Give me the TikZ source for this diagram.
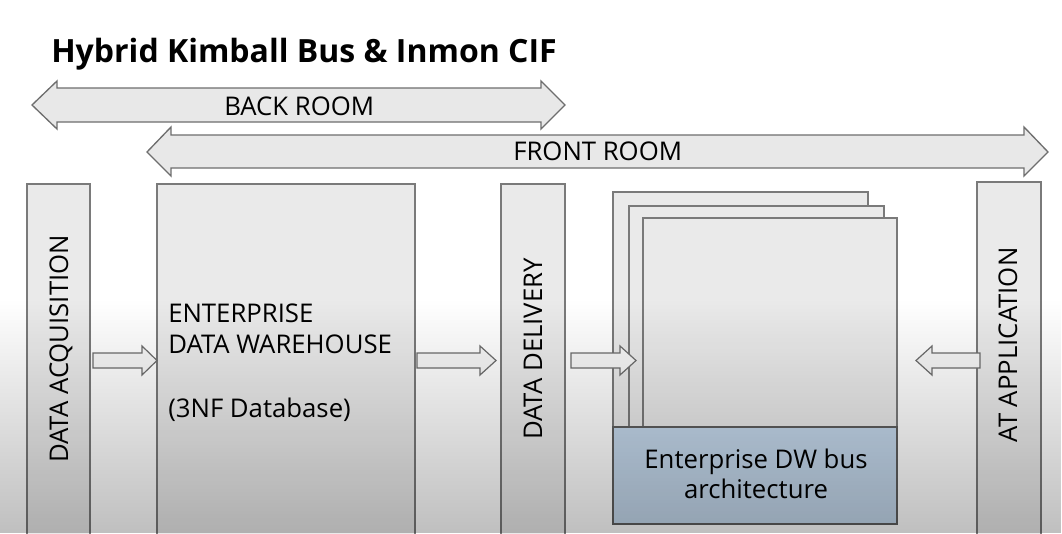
\documentclass[tikz,border=0pt]{standalone}
\usepackage{fontspec}
\setmainfont{Open Sans}
\usetikzlibrary{fit,fadings}
\tikzfading[name=darkdown, top color=transparent!100, bottom color=transparent!0]
\definecolor{boxfill}{HTML}{EAEAEA}
\definecolor{boxline}{HTML}{7A7A7A}
\definecolor{arrfill}{HTML}{E8E8E8}
\definecolor{arrline}{HTML}{6E6E6E}
\definecolor{blkfill}{HTML}{F7F7F7}
\definecolor{busfill}{HTML}{C4D8EC}
\definecolor{busline}{HTML}{5E5E5E}
\begin{document}
\begin{tikzpicture}[x=0.75pt,y=-0.75pt,
  box/.style={draw=boxline, fill=boxfill, line width=1pt, inner sep=0pt},
  bus/.style={draw=busline, fill=busfill, line width=1pt, inner sep=0pt},
  dbl/.style={draw=arrline, fill=arrfill, line width=1pt, line join=miter},
  blk/.style={draw=arrline, fill=blkfill, line width=0.9pt, line join=miter},
  lbl/.style={font=\fontsize{19.3}{23}\selectfont, inner sep=0pt},
  vlbl/.style={lbl, rotate=90, anchor=base},
  ttl/.style={font=\fontsize{24}{29}\bfseries, inner sep=0pt, anchor=base west}]
\useasboundingbox (0,0) rectangle (1062,533);
\clip (0,0) rectangle (1062,533);
\fill[white] (0,0) rectangle (1062,533);

% title
\node[ttl] (title) at (51,62) {Hybrid Kimball Bus \& Inmon CIF};

% room arrows
\draw[dbl] (32,105) -- (57,81) -- (57,88) -- (541,88) -- (541,81) -- (565,105)
  -- (541,129) -- (541,122) -- (57,122) -- (57,129) -- cycle;
\node[lbl, anchor=base west] (back) at (224,115) {BACK ROOM};
\draw[dbl] (147,152) -- (171,127) -- (171,135) -- (1024,135) -- (1024,127) -- (1048,152)
  -- (1024,176) -- (1024,168) -- (171,168) -- (171,176) -- cycle;
\node[lbl, anchor=base west] (front) at (513,160) {FRONT ROOM};

% columns
\node[box, fit={(27,184) (90,545)}] (acq) {};
\node[box, fit={(157,184) (415,545)}] (edw) {};
\node[box, fit={(501,184) (565,545)}] (del) {};
\node[box, fit={(977,182) (1041,545)}] (app) {};

% stacked marts
\node[box, fit={(613,192) (868,512)}] (m1) {};
\node[box, fit={(629,206) (884,512)}] (m2) {};
\node[box, fit={(643,218) (897,512)}] (m3) {};
\node[bus, fit={(613,427) (897,524)}] (busbox) {};

% labels
\node[vlbl] (acqt) at (68,349) {DATA ACQUISITION};
\node[vlbl] (delt) at (542,349) {DATA DELIVERY};
\node[vlbl] (appt) at (1017,345) {AT APPLICATION};
\node[lbl, anchor=base west] (e1) at (168,322) {ENTERPRISE};
\node[lbl, anchor=base west] (e2) at (168,353) {DATA WAREHOUSE};
\node[lbl, anchor=base west] (e3) at (168,417) {(3NF Database)};
\node[lbl, anchor=base] (b1) at (756,468) {Enterprise DW bus};
\node[lbl, anchor=base] (b2) at (756,498) {architecture};

% flow arrows
\draw[blk] (93,353) -- (142,353) -- (142,346) -- (157,360.5) -- (142,375) -- (142,368) -- (93,368) -- cycle;
\draw[blk] (417,353) -- (480,353) -- (480,346) -- (496,360.5) -- (480,375) -- (480,368) -- (417,368) -- cycle;
\draw[blk] (571,353) -- (620,353) -- (620,346) -- (636,360.5) -- (620,375) -- (620,368) -- (571,368) -- cycle;
\draw[blk] (980,353) -- (932,353) -- (932,346) -- (916,360.5) -- (932,375) -- (932,368) -- (980,368) -- cycle;

% video vignette
\fill[black, opacity=0.25, path fading=darkdown] (0,300) rectangle (1062,533);
\end{tikzpicture}
\end{document}
